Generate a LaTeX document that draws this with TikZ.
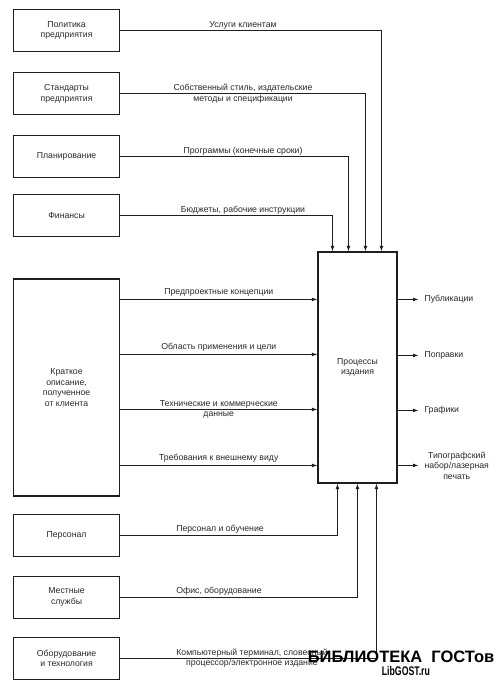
\documentclass[tikz,border=0pt]{standalone}
\usepackage{fontspec}
\setmainfont{Liberation Sans}
\usetikzlibrary{arrows.meta, positioning, calc}
\definecolor{lineColor}{RGB}{30, 30, 30}
\definecolor{labelText}{RGB}{40, 40, 40}

\begin{document}
\begin{tikzpicture}[x=1pt, y=1pt]

% Style definitions
\tikzset{
    base/.style={
        rectangle, draw=lineColor, line width=1.1pt, align=center,
        text=labelText, font=\fontsize{8.7}{10.5}\selectfont
    },
    source/.style={base, minimum width=106pt, minimum height=42pt},
    process/.style={base, minimum width=79pt, minimum height=231pt},
    wire/.style={
        draw=lineColor, line width=0.9pt, -{Latex[length=5.5pt, width=3.8pt]}
    },
    flowtext/.style={font=\fontsize{8.7}{10.5}\selectfont, text=labelText, align=center, inner sep=1.5pt},
    stamp/.style={font=\bfseries, text=black, inner sep=0pt}
}

\useasboundingbox (0,0) rectangle (501,-680);

% Sources on the left
\node (policy) [source, anchor=north west] at (13,-9) {Политика\\предприятия};
\node (standards) [source, below=20pt of policy] {Стандарты\\предприятия};
\node (planning) [source, below=20pt of standards] {Планирование};
\node (finance) [source, below=16pt of planning] {Финансы};
\node (brief) [source, below=41pt of finance, minimum height=217pt] {Краткое\\описание,\\полученное\\от клиента};
\node (staff) [source, below=17pt of brief] {Персонал};
\node (services) [source, below=19pt of staff] {Местные\\службы};
\node (equipment) [source, below=18pt of services] {Оборудование\\и технология};

% Publishing process
\node (publish) [process] at (357.5,-367.5) {Процессы\\издания};

% Control points on the process box
\coordinate (ctlA) at ($(publish.north west)+(15,0)$);
\coordinate (ctlB) at ($(publish.north west)+(31,0)$);
\coordinate (ctlC) at ($(publish.north west)+(48,0)$);
\coordinate (ctlD) at ($(publish.north west)+(64,0)$);
\coordinate (mechA) at ($(publish.south west)+(20,0)$);
\coordinate (mechB) at ($(publish.south west)+(40,0)$);
\coordinate (mechC) at ($(publish.south west)+(59,0)$);
\coordinate (inA) at ($(publish.north west)+(0,-48)$);
\coordinate (inB) at ($(publish.north west)+(0,-103)$);
\coordinate (inC) at ($(publish.north west)+(0,-158)$);
\coordinate (inD) at ($(publish.north west)+(0,-214)$);
\coordinate (outA) at ($(publish.north east)+(0,-48)$);
\coordinate (outB) at ($(publish.north east)+(0,-104)$);
\coordinate (outC) at ($(publish.north east)+(0,-159)$);
\coordinate (outD) at ($(publish.north east)+(0,-214)$);
\coordinate (topLabel) at (243,0);

% Controls from the top
\draw [wire] (policy.east) -| (ctlD);
\draw [wire] (standards.east) -| (ctlC);
\draw [wire] (planning.east) -| (ctlB);
\draw [wire] (finance.east) -| (ctlA);
\node (lblService) [flowtext, anchor=south] at (topLabel |- policy.east) {Услуги клиентам};
\node (lblStyle) [flowtext] at (topLabel |- standards.east) {Собственный стиль, издательские\\методы и спецификации};
\node (lblPlan) [flowtext, anchor=south] at (topLabel |- planning.east) {Программы (конечные сроки)};
\node (lblBudget) [flowtext, anchor=south] at (topLabel |- finance.east) {Бюджеты, рабочие инструкции};

% Inputs from the brief
\draw [wire] (brief.east |- inA) -- (inA) node [flowtext, midway, above, yshift=1pt] {Предпроектные концепции};
\draw [wire] (brief.east |- inB) -- (inB) node [flowtext, midway, above, yshift=1pt] {Область применения и цели};
\draw [wire] (brief.east |- inC) -- (inC) node [flowtext, midway] {Технические и коммерческие\\данные};
\draw [wire] (brief.east |- inD) -- (inD) node [flowtext, midway, above, yshift=1pt] {Требования к внешнему виду};

% Mechanisms from below
\draw [wire] (staff.east) -| (mechA);
\draw [wire] (services.east) -| (mechB);
\draw [wire] (equipment.east) -| (mechC);
\node (lblStaff) [flowtext, anchor=south] at (220,0 |- staff.east) {Персонал и обучение};
\node (lblOffice) [flowtext, anchor=south] at (219,0 |- services.east) {Офис, оборудование};
\node (lblTerminal) [flowtext] at (252,0 |- equipment.east) {Компьютерный терминал, словесный\\процессор/электронное издание};

% Outputs
\draw [wire] (outA) -- ++(21,0) node (pubs) [flowtext, right, xshift=4pt] {Публикации};
\draw [wire] (outB) -- ++(21,0) node (fixes) [flowtext, right, xshift=4pt] {Поправки};
\draw [wire] (outC) -- ++(21,0) node (graphs) [flowtext, right, xshift=4pt] {Графики};
\draw [wire] (outD) -- ++(21,0) node (typeset) [flowtext, right, xshift=4pt] {Типографский\\набор/лазерная\\печать};

% Library stamp
\node (stampTitle) [stamp, font=\bfseries\fontsize{16.5}{17}\selectfont] at (401,-657) {БИБЛИОТЕКА\ \ ГОСТов};
\node (stampSite) [stamp, font=\bfseries\fontsize{12.5}{12.5}\selectfont, xscale=0.7, below=3pt of stampTitle, xshift=7pt] {LibGOST.ru};

\end{tikzpicture}
\end{document}
